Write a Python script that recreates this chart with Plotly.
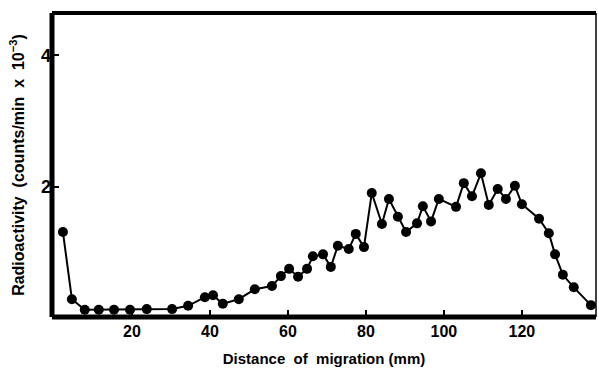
import plotly.graph_objects as go

distance_mm = [2.3, 4.6, 7.9, 11.5, 15.4, 19.5, 23.8, 30.3, 34.4, 38.7, 40.8, 43.3,
               47.4, 51.5, 55.9, 58.2, 60.3, 62.6, 64.9, 66.4, 69.0, 71.0, 72.8, 75.6,
               77.4, 79.5, 81.5, 84.1, 85.9, 88.2, 90.3, 93.1, 94.6, 96.7, 98.7, 103.1,
               105.1, 107.2, 109.5, 111.5, 113.8, 115.9, 118.2, 120.0, 124.4, 126.9,
               128.5, 130.5, 133.3, 137.7]
activity = [1.32, 0.30, 0.14, 0.14, 0.14, 0.14, 0.15, 0.15, 0.20, 0.33, 0.36, 0.23,
            0.30, 0.45, 0.50, 0.65, 0.76, 0.64, 0.76, 0.95, 0.98, 0.79, 1.11, 1.06,
            1.29, 1.09, 1.91, 1.44, 1.82, 1.55, 1.32, 1.45, 1.71, 1.48, 1.82, 1.70,
            2.06, 1.86, 2.21, 1.73, 1.97, 1.82, 2.02, 1.74, 1.52, 1.30, 0.98, 0.67,
            0.48, 0.21]

x_ticks = [20, 40, 60, 80, 100, 120]
y_ticks = [2, 4]

FONT = "Liberation Sans"

fig = go.Figure()
fig.add_trace(go.Scatter(
    x=distance_mm, y=activity, mode="lines+markers",
    line=dict(color="black", width=2),
    marker=dict(color="black", size=10),
    showlegend=False, cliponaxis=False,
))

fig.update_layout(
    width=599, height=368,
    margin=dict(l=52, r=3, t=13, b=51),
    paper_bgcolor="white", plot_bgcolor="white",
    font=dict(family=FONT, color="black", size=14),
    xaxis=dict(
        range=[-0.5, 139.0], tickvals=x_ticks, ticktext=[str(v) for v in x_ticks],
        ticks="inside", ticklen=7, tickwidth=1.5, tickcolor="black",
        showgrid=False, zeroline=False, showline=False,
        ticklabelstandoff=3,
        tickfont=dict(family=FONT, size=16, weight="bold"),
        title=dict(text="Distance  of  migration (mm)", standoff=14,
                   font=dict(family=FONT, size=15, weight="bold")),
    ),
    yaxis=dict(
        range=[0.03, 4.64], tickvals=y_ticks, ticktext=[str(v) for v in y_ticks],
        ticks="inside", ticklen=7, tickwidth=1.5, tickcolor="black",
        showgrid=False, zeroline=False, showline=False,
        tickfont=dict(family=FONT, size=18, weight="bold"),
        title=dict(text="Radioactivity  (counts/min  x  10<sup>\u22123</sup>)", standoff=12,
                   font=dict(family=FONT, size=16, weight="bold")),
    ),
)

# frame: thick left/bottom/top, thin right
fig.add_shape(type="line", xref="paper", yref="paper", x0=0, x1=0, y0=0, y1=1,
              line=dict(color="black", width=5))
fig.add_shape(type="line", xref="paper", yref="paper", x0=0, x1=1, y0=0, y1=0,
              line=dict(color="black", width=5))
fig.add_shape(type="line", xref="paper", yref="paper", x0=0, x1=1, y0=1, y1=1,
              line=dict(color="black", width=4))
fig.add_shape(type="line", xref="paper", yref="paper", x0=1, x1=1, y0=0, y1=1,
              line=dict(color="black", width=1.5))

fig.write_html("out.html")
